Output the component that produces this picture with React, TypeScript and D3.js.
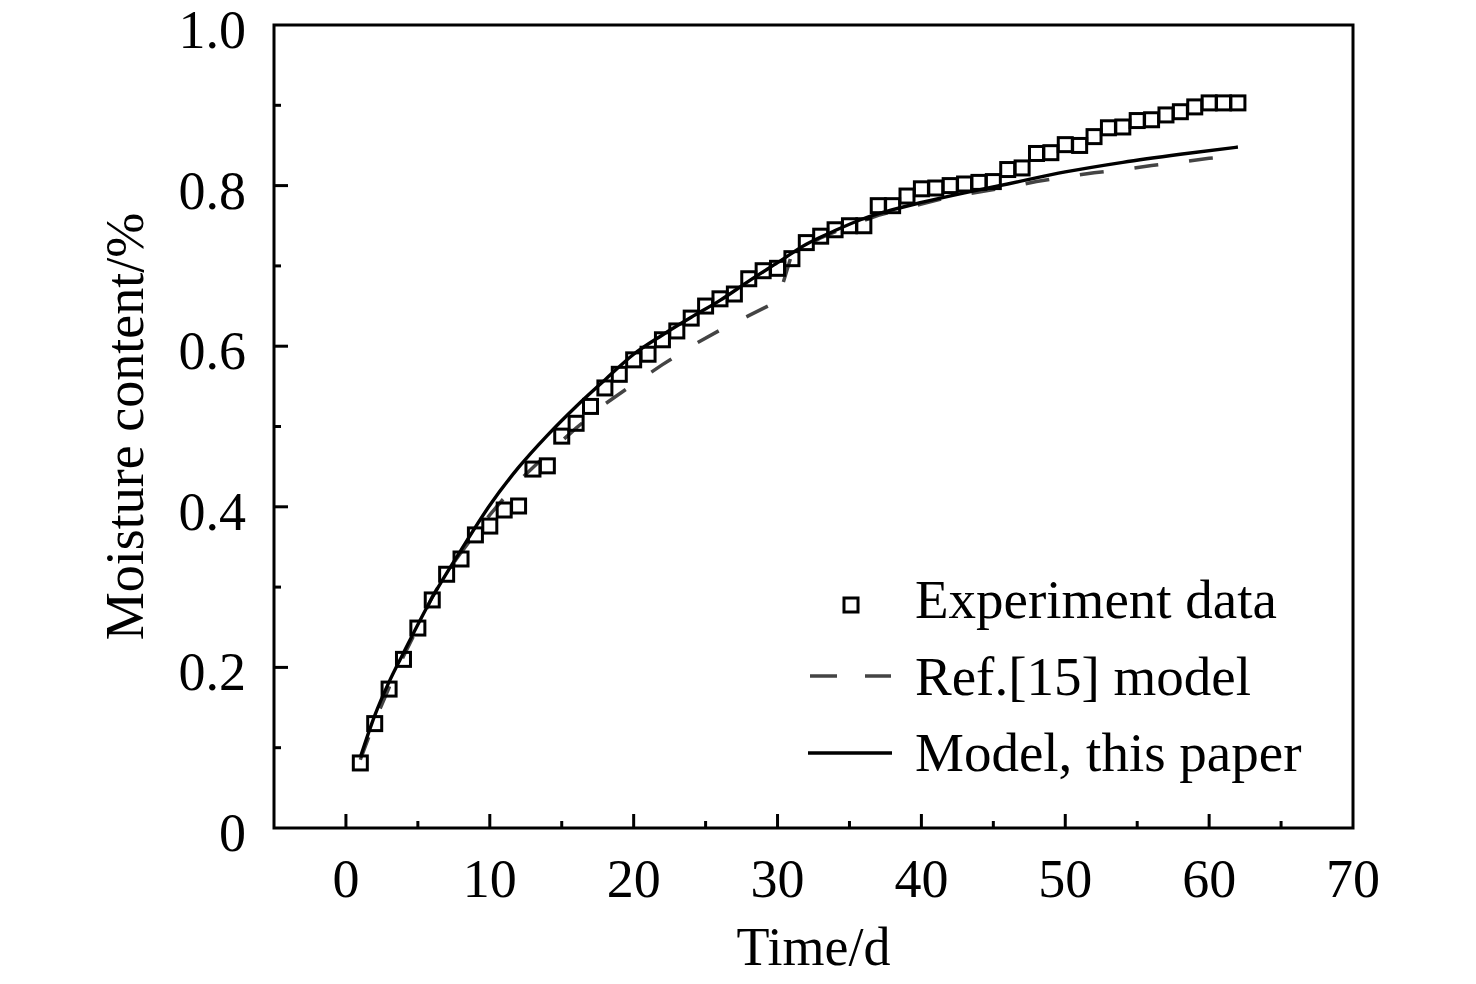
import React, { useEffect, useRef } from 'react'
import * as d3 from 'd3'

// Experiment data (day, moisture content)
const expDays = [
  1, 2, 3, 4, 5, 6, 7, 8, 9, 10, 11, 12, 13, 14, 15, 16, 17, 18, 19, 20, 21,
  22, 23, 24, 25, 26, 27, 28, 29, 30, 31, 32, 33, 34, 35, 36, 37, 38, 39, 40,
  41, 42, 43, 44, 45, 46, 47, 48, 49, 50, 51, 52, 53, 54, 55, 56, 57, 58, 59,
  60, 61, 62
]
const expValues = [
  0.081, 0.130, 0.173, 0.210, 0.249, 0.284, 0.316, 0.335, 0.365, 0.376, 0.396,
  0.401, 0.447, 0.451, 0.488, 0.504, 0.525, 0.548, 0.565, 0.583, 0.590, 0.608,
  0.619, 0.635, 0.650, 0.659, 0.665, 0.684, 0.694, 0.697, 0.709, 0.729, 0.737,
  0.745, 0.750, 0.750, 0.775, 0.775, 0.787, 0.796, 0.797, 0.800, 0.802, 0.804,
  0.805, 0.820, 0.822, 0.840, 0.841, 0.851, 0.850, 0.861, 0.872, 0.873, 0.881,
  0.882, 0.888, 0.892, 0.898, 0.903, 0.903, 0.903
]

// Ref.[15] model
const refDays = [
  1, 2, 3, 4, 5, 6, 7, 8, 10, 11, 12, 14, 16, 18, 20, 22, 24, 26, 28, 30, 31,
  33, 35, 37, 40, 42, 44, 46, 48, 50, 52, 54, 56, 58, 60, 62
]
const refValues = [
  0.085, 0.133, 0.175, 0.214, 0.250, 0.288, 0.318, 0.343, 0.390, 0.411, 0.432,
  0.466, 0.498, 0.528, 0.553, 0.577, 0.600, 0.620, 0.638, 0.656, 0.715, 0.735,
  0.750, 0.763, 0.777, 0.786, 0.792, 0.798, 0.805, 0.811, 0.816, 0.820, 0.825,
  0.829, 0.834, 0.837
]

// Model, this paper
const modelDays = [
  1, 2, 3, 4, 6, 8, 10, 12, 14, 16, 18, 20, 22, 24, 26, 28, 30, 32, 34, 36, 38,
  40, 43, 46, 50, 54, 58, 62
]
const modelValues = [
  0.088, 0.140, 0.182, 0.218, 0.287, 0.346, 0.402, 0.449, 0.489, 0.525, 0.558,
  0.590, 0.614, 0.636, 0.657, 0.681, 0.704, 0.727, 0.744, 0.759, 0.770, 0.779,
  0.791, 0.802, 0.817, 0.829, 0.839, 0.848
]

const xMajorTicks = [0, 10, 20, 30, 40, 50, 60, 70]
const xMinorTicks = [5, 15, 25, 35, 45, 55, 65]
const yMajorTicks = [0, 0.2, 0.4, 0.6, 0.8, 1.0]
const yMinorTicks = [0.1, 0.3, 0.5, 0.7, 0.9]

const legendLabels = ['Experiment data', 'Ref.[15] model', 'Model, this paper']

export default function App() {
  const svgRef = useRef<SVGSVGElement>(null)

  useEffect(() => {
    const svg = d3.select(svgRef.current)
    svg.selectAll('*').remove()

    const font = '"Liberation Serif", "Times New Roman", serif'
    const left = 274
    const right = 1353
    const top = 25
    const bottom = 828

    const x = d3.scaleLinear().domain([-5, 70]).range([left, right])
    const y = d3.scaleLinear().domain([0, 1]).range([bottom, top])

    // frame
    svg.append('rect')
      .attr('x', left)
      .attr('y', top)
      .attr('width', right - left)
      .attr('height', bottom - top)
      .attr('fill', 'none')
      .attr('stroke', '#000')
      .attr('stroke-width', 3)

    // x ticks (inward)
    xMajorTicks.filter(t => t < 70).forEach(t => {
      svg.append('line')
        .attr('x1', x(t)).attr('x2', x(t))
        .attr('y1', bottom).attr('y2', bottom - 14)
        .attr('stroke', '#000').attr('stroke-width', 3)
    })
    xMinorTicks.forEach(t => {
      svg.append('line')
        .attr('x1', x(t)).attr('x2', x(t))
        .attr('y1', bottom).attr('y2', bottom - 7)
        .attr('stroke', '#000').attr('stroke-width', 3)
    })
    svg.append('g')
      .selectAll('text')
      .data(xMajorTicks)
      .join('text')
      .attr('x', d => x(d))
      .attr('y', bottom + 69)
      .attr('text-anchor', 'middle')
      .style('font-family', font)
      .style('font-size', '54px')
      .text(d => String(d))

    // y ticks (inward)
    yMajorTicks.filter(t => t > 0 && t < 1).forEach(t => {
      svg.append('line')
        .attr('x1', left).attr('x2', left + 14)
        .attr('y1', y(t)).attr('y2', y(t))
        .attr('stroke', '#000').attr('stroke-width', 3)
    })
    yMinorTicks.forEach(t => {
      svg.append('line')
        .attr('x1', left).attr('x2', left + 7)
        .attr('y1', y(t)).attr('y2', y(t))
        .attr('stroke', '#000').attr('stroke-width', 3)
    })
    svg.append('g')
      .selectAll('text')
      .data(yMajorTicks)
      .join('text')
      .attr('x', left - 28)
      .attr('y', d => y(d) + 23)
      .attr('text-anchor', 'end')
      .style('font-family', font)
      .style('font-size', '54px')
      .text(d => (d === 0 ? '0' : d3.format('.1f')(d)))

    // axis titles
    svg.append('text')
      .attr('x', (left + right) / 2)
      .attr('y', 965)
      .attr('text-anchor', 'middle')
      .style('font-family', font)
      .style('font-size', '54px')
      .text('Time/d')

    svg.append('text')
      .attr('transform', `translate(143, ${(top + bottom) / 2}) rotate(-90)`)
      .attr('text-anchor', 'middle')
      .style('font-family', font)
      .style('font-size', '54px')
      .text('Moisture content/%')

    // Ref.[15] model dashed line
    const refLine = d3.line<number>()
      .x((_, i) => x(refDays[i]))
      .y(d => y(d))
    svg.append('path')
      .attr('d', refLine(refValues))
      .attr('fill', 'none')
      .attr('stroke', '#444')
      .attr('stroke-width', 3.5)
      .attr('stroke-dasharray', '24 31')

    // Model, this paper
    const modelLine = d3.line<number>()
      .x((_, i) => x(modelDays[i]))
      .y(d => y(d))
      .curve(d3.curveMonotoneX)
    svg.append('path')
      .attr('d', modelLine(modelValues))
      .attr('fill', 'none')
      .attr('stroke', '#000')
      .attr('stroke-width', 3.4)

    // experiment squares
    const sq = 14
    svg.append('g')
      .selectAll('rect')
      .data(expValues)
      .join('rect')
      .attr('x', (_, i) => x(expDays[i]) - sq / 2)
      .attr('y', d => y(d) - sq / 2)
      .attr('width', sq)
      .attr('height', sq)
      .attr('fill', 'none')
      .attr('stroke', '#000')
      .attr('stroke-width', 3)

    // legend
    const legendX = 915
    const rowBaselines = [618, 695, 771]
    svg.append('rect')
      .attr('x', 851 - sq / 2)
      .attr('y', 605 - sq / 2)
      .attr('width', sq)
      .attr('height', sq)
      .attr('fill', 'none')
      .attr('stroke', '#000')
      .attr('stroke-width', 3)
    svg.append('line')
      .attr('x1', 810).attr('x2', 891)
      .attr('y1', 676).attr('y2', 676)
      .attr('stroke', '#444')
      .attr('stroke-width', 3.5)
      .attr('stroke-dasharray', '27 28')
    svg.append('line')
      .attr('x1', 808).attr('x2', 892)
      .attr('y1', 753).attr('y2', 753)
      .attr('stroke', '#000')
      .attr('stroke-width', 3.4)
    legendLabels.forEach((label, i) => {
      svg.append('text')
        .attr('x', legendX)
        .attr('y', rowBaselines[i])
        .style('font-family', font)
        .style('font-size', '55px')
        .text(label)
    })
  }, [])

  return (
    <div style={{ position: 'absolute', left: 0, top: 0, background: '#fff' }}>
      <svg ref={svgRef} width={1476} height={984} style={{ display: 'block' }} />
    </div>
  )
}
